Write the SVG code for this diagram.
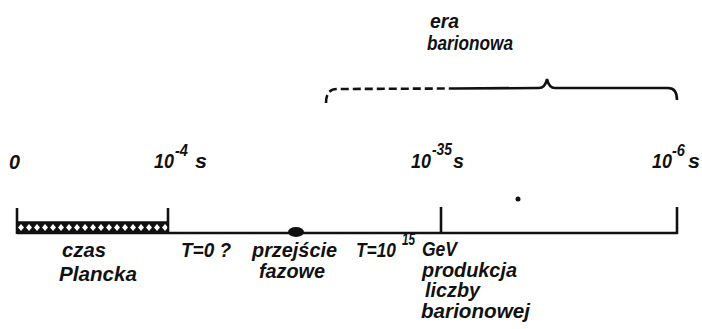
<svg xmlns="http://www.w3.org/2000/svg" width="702" height="329" viewBox="0 0 702 329">
<defs>
<pattern id="hatch" width="8" height="11" patternUnits="userSpaceOnUse" x="17" y="222">
<rect width="8" height="11" fill="#111"/>
<path d="M1 5.5 L4 2 L7 5.5 L4 9 Z" fill="#fff"/>
</pattern>
<style>
text{font-family:"Liberation Sans",Arial,sans-serif;font-weight:bold;font-style:italic;font-size:20px;fill:#111}
.sup{font-size:16px}
.ln{stroke:#111;stroke-width:2.6;fill:none}
</style>
</defs>
<rect width="702" height="329" fill="#fff"/>
<g id="connectors">
<line class="ln" x1="17" y1="233" x2="678" y2="233"/>
<line class="ln" x1="17" y1="208" x2="17" y2="234"/>
<line class="ln" x1="168" y1="208" x2="168" y2="234"/>
<line class="ln" x1="441" y1="207" x2="441" y2="234"/>
<line class="ln" x1="677" y1="207" x2="677" y2="234"/>
<path d="M326 103 Q326 89 337 89 L453 88.5" class="ln" stroke-width="3" stroke-dasharray="8,4"/>
<path d="M453 88.5 L539 88 Q545 88 547 79 Q549 88 555 88 L668 88 Q677 88 677 100" class="ln" stroke-width="3"/>
</g>
<g id="planck-bar"><rect x="17" y="222" width="151" height="11" fill="url(#hatch)" stroke="#111" stroke-width="1.5"/></g>
<g id="phase-dot"><ellipse cx="296" cy="232" rx="8" ry="5" fill="#111"/></g>
<g id="speck"><circle cx="518" cy="199" r="2.5" fill="#111"/></g>
<g id="labels-top">
<text x="9" y="169" textLength="11" lengthAdjust="spacingAndGlyphs">0</text>
<text x="154" y="168" textLength="20" lengthAdjust="spacingAndGlyphs">10</text><text class="sup" x="175" y="156" textLength="13" lengthAdjust="spacingAndGlyphs">-4</text><text x="195" y="168" textLength="12" lengthAdjust="spacingAndGlyphs">s</text>
<text x="411" y="168" textLength="20" lengthAdjust="spacingAndGlyphs">10</text><text class="sup" x="432" y="155" textLength="20" lengthAdjust="spacingAndGlyphs">-35</text><text x="453" y="168" textLength="11" lengthAdjust="spacingAndGlyphs">s</text>
<text x="652" y="168" textLength="20" lengthAdjust="spacingAndGlyphs">10</text><text class="sup" x="672" y="156" textLength="13" lengthAdjust="spacingAndGlyphs">-6</text><text x="688" y="168" textLength="12" lengthAdjust="spacingAndGlyphs">s</text>
</g>
<g id="era"><text x="430" y="28" textLength="29" lengthAdjust="spacingAndGlyphs">era</text><text x="427" y="50" textLength="86" lengthAdjust="spacingAndGlyphs">barionowa</text></g>
<g id="labels-bottom">
<text x="62" y="257" textLength="44" lengthAdjust="spacingAndGlyphs">czas</text>
<text x="59" y="281" textLength="78" lengthAdjust="spacingAndGlyphs">Plancka</text>
<text x="181" y="257" textLength="50" lengthAdjust="spacingAndGlyphs">T=0 ?</text>
<text x="252" y="257" textLength="85" lengthAdjust="spacingAndGlyphs">przejście</text>
<text x="259" y="278" textLength="66" lengthAdjust="spacingAndGlyphs">fazowe</text>
<text x="356" y="257" textLength="40" lengthAdjust="spacingAndGlyphs">T=10</text><text class="sup" x="402" y="245" textLength="13" lengthAdjust="spacingAndGlyphs">15</text>
<text x="422" y="256" textLength="35" lengthAdjust="spacingAndGlyphs">GeV</text>
<text x="422" y="277" textLength="95" lengthAdjust="spacingAndGlyphs">produkcja</text>
<text x="425" y="297" textLength="55" lengthAdjust="spacingAndGlyphs">liczby</text>
<text x="421" y="318" textLength="109" lengthAdjust="spacingAndGlyphs">barionowej</text>
</g>
</svg>
